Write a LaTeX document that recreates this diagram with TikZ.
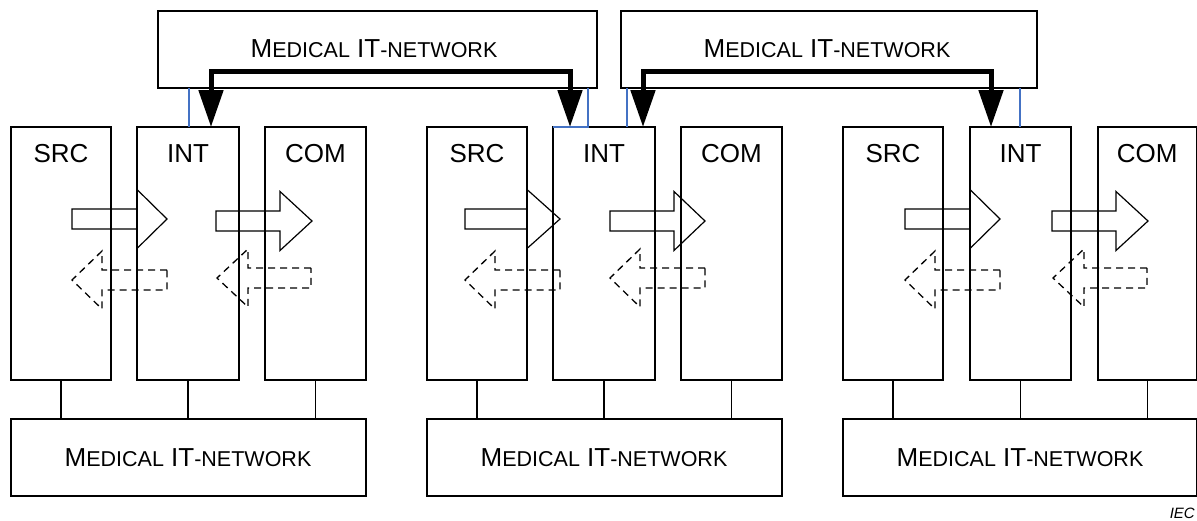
\documentclass[tikz,border=0pt]{standalone}
\usepackage{fontspec}
\setmainfont{Liberation Sans}
\usetikzlibrary{arrows.meta}

% faked small capitals for the network caption
\newcommand\capsmall[1]{{\fontsize{21.5}{24}\selectfont #1}}
\newcommand\netcaption{M\capsmall{EDICAL} IT\capsmall{-NETWORK}}

% hollow flow arrow pointing right: x-start, x-head-base, x-tip, y-centre
\newcommand\flowright[4]{%
  \draw[flowsolid] (#1,#4-10) -- (#2,#4-10) -- (#2,#4-29.5) -- (#3,#4)
    -- (#2,#4+29.5) -- (#2,#4+10) -- (#1,#4+10) -- cycle;}
% hollow dashed arrow pointing left: x-tip, x-head-base, x-end, y-centre
\newcommand\flowleft[4]{%
  \draw[flowdashed] (#3,#4-10) -- (#2,#4-10) -- (#2,#4-29) -- (#1,#4)
    -- (#2,#4+29) -- (#2,#4+10) -- (#3,#4+10) -- cycle;}

\definecolor{linkblue}{RGB}{68,114,196}

\begin{document}
\begin{tikzpicture}[x=1pt,y=-1pt,
  box/.style={draw, line width=1.4pt, anchor=north west, inner sep=0pt, outer sep=0pt},
  unitbox/.style={box, minimum height=253pt},
  netbox/.style={box, minimum height=77pt},
  toptext/.style={font=\fontsize{26}{30}\selectfont, anchor=base, inner sep=0pt},
  nettext/.style={font=\fontsize{26}{30}\selectfont, anchor=base, inner sep=0pt},
  bus/.style={line width=1.4pt},
  flowsolid/.style={line width=1.2pt, line join=miter},
  flowdashed/.style={line width=1.3pt, dash pattern=on 7pt off 5pt},
  bluelink/.style={linkblue, line width=1.3pt},
  thicklink/.style={line width=5pt, line join=miter,
    {Triangle[length=37pt,width=24pt]}-{Triangle[length=37pt,width=24pt]}},
]
\useasboundingbox (0,0) rectangle (1197,520);

% upper network boxes
\node[netbox, minimum width=439pt] (topA) at (158,11) {};
\node[netbox, minimum width=416pt] (topB) at (621,11) {};
\node[nettext] (topAtext) at (374,57) {\netcaption};
\node[nettext] (topBtext) at (827,57) {\netcaption};

% lower network boxes
\node[netbox, minimum width=355pt] (netA) at (11,419) {};
\node[netbox, minimum width=355pt] (netB) at (427,419) {};
\node[netbox, minimum width=353.5pt] (netC) at (843,419) {};
\node[nettext] (netAtext) at (188,466) {\netcaption};
\node[nettext] (netBtext) at (604,466) {\netcaption};
\node[nettext] (netCtext) at (1020,466) {\netcaption};

% device units
\node[unitbox, minimum width=100pt] (srcA) at (11,127) {};
\node[unitbox, minimum width=102pt] (intA) at (137,127) {};
\node[unitbox, minimum width=101pt] (comA) at (265,127) {};
\node[unitbox, minimum width=100pt] (srcB) at (427,127) {};
\node[unitbox, minimum width=102pt] (intB) at (553,127) {};
\node[unitbox, minimum width=101pt] (comB) at (681,127) {};
\node[unitbox, minimum width=100pt] (srcC) at (843,127) {};
\node[unitbox, minimum width=101pt] (intC) at (970,127) {};
\node[unitbox, minimum width=98.5pt] (comC) at (1098,127) {};

\foreach \u in {srcA,intA,comA,srcB,intB,comB,srcC,intC,comC}{
  \path (\u.north) ++(0,35) node[toptext] (\u label) {};
}
\node[toptext] at (srcAlabel) {SRC};
\node[toptext] at (intAlabel) {INT};
\node[toptext] at (comAlabel) {COM};
\node[toptext] at (srcBlabel) {SRC};
\node[toptext] at (intBlabel) {INT};
\node[toptext] at (comBlabel) {COM};
\node[toptext] at (srcClabel) {SRC};
\node[toptext] at (intClabel) {INT};
\node[toptext] at (comClabel) {COM};

% units to lower networks
\foreach \u/\n in {srcA/netA,intA/netA,comA/netA,srcB/netB,intB/netB,comB/netB,srcC/netC,intC/netC,comC/netC}{
  \draw[bus] (\u.south) -- (\u.south |- \n.north);
}

% interface units to upper networks
\coordinate (bA) at (189,88);
\coordinate (bB) at (588,88);
\coordinate (bC) at (627,88);
\coordinate (bD) at (1020,88);
\draw[bluelink] (bA) -- (bA |- intA.north);
\draw[bluelink] (bB) -- (bB |- intB.north) -- (intB.north west);
\draw[bluelink] (bC) -- (bC |- intB.north);
\draw[bluelink] (bD) -- (bD |- intC.north);

% links between interface units through the upper networks
\coordinate (kA) at (211,127);
\coordinate (kB) at (570,127);
\coordinate (kC) at (643,127);
\coordinate (kD) at (991,127);
\draw[thicklink] (kA) -- (211,71) -- (570,71) -- (kB);
\draw[thicklink] (kC) -- (643,71) -- (991,71) -- (kD);

% data flow arrows
\flowright{72}{137}{167}{219}
\flowright{216}{280}{312}{221}
\flowleft{72}{102}{167}{280}
\flowleft{217}{248}{311}{278}

\flowright{465}{527}{560}{219}
\flowright{610}{674}{705}{221}
\flowleft{465}{495}{560}{280}
\flowleft{610}{640}{705}{278}

\flowright{905}{970}{1000}{219}
\flowright{1052}{1116}{1148}{221}
\flowleft{905}{935}{1000}{280}
\flowleft{1053}{1084}{1147}{278}

\node[font=\fontsize{15}{15}\selectfont\itshape, anchor=base east, inner sep=0pt] (iec) at (1195,518) {IEC};
\end{tikzpicture}
\end{document}
